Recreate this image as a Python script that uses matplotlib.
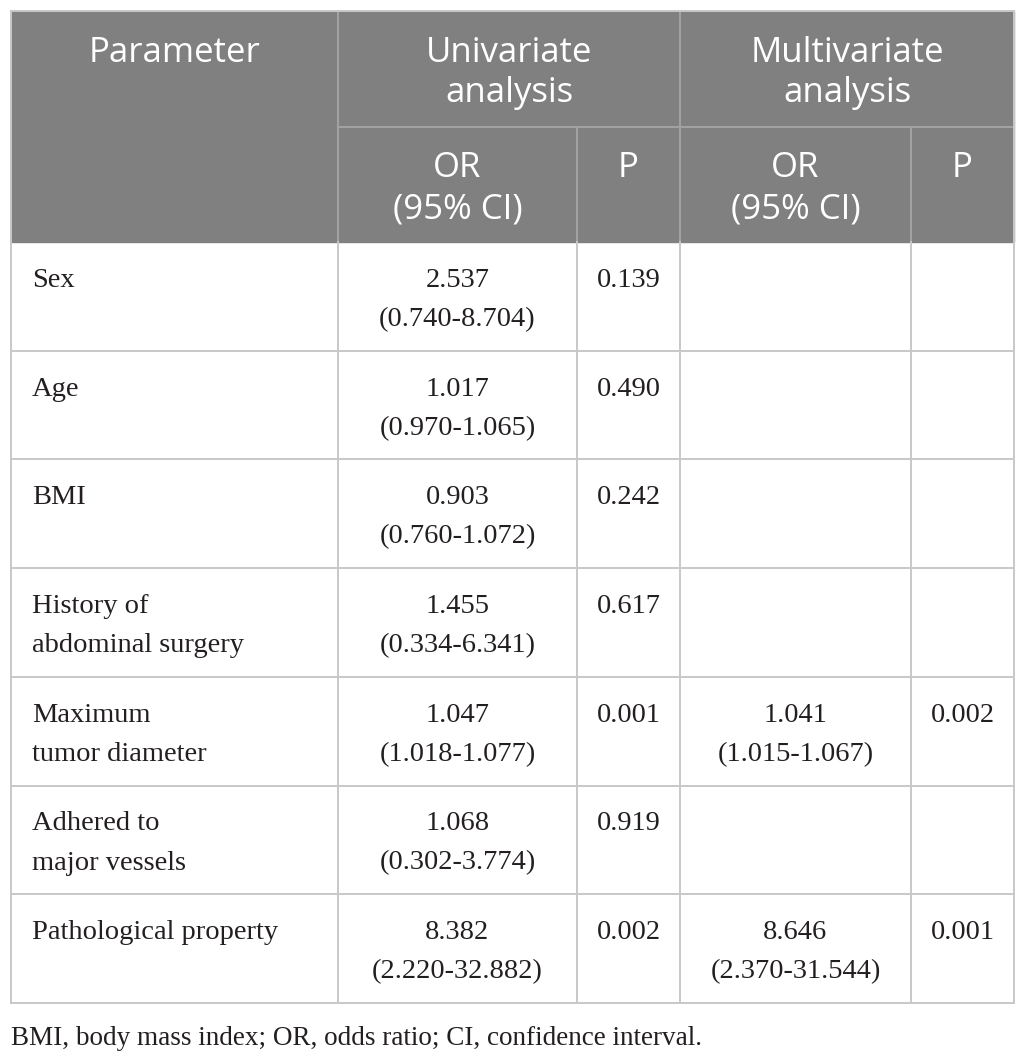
import matplotlib
matplotlib.use("Agg")
import matplotlib.pyplot as plt
from matplotlib.patches import Rectangle

# table content
params = ["Sex", "Age", "BMI", "History of\nabdominal surgery",
          "Maximum\ntumor diameter", "Adhered to\nmajor vessels",
          "Pathological property"]
uni_or = ["2.537\n(0.740-8.704)", "1.017\n(0.970-1.065)", "0.903\n(0.760-1.072)",
          "1.455\n(0.334-6.341)", "1.047\n(1.018-1.077)", "1.068\n(0.302-3.774)",
          "8.382\n(2.220-32.882)"]
uni_p = ["0.139", "0.490", "0.242", "0.617", "0.001", "0.919", "0.002"]
multi_or = ["", "", "", "", "1.041\n(1.015-1.067)", "", "8.646\n(2.370-31.544)"]
multi_p = ["", "", "", "", "0.002", "", "0.001"]
footnote = "BMI, body mass index; OR, odds ratio; CI, confidence interval."

# layout in pixels
W, H = 1025, 1057
col_x = [11, 338, 577, 680, 911, 1014]
head_y = [11, 127, 242]
row_h = 108.7

head_bg = "#808080"
head_line = "#a3a3a3"
body_line = "#c8c8c8"
txt = "#231f20"

fig = plt.figure(figsize=(W / 100, H / 100), dpi=100)
ax = fig.add_axes([0, 0, 1, 1])
ax.set_xlim(0, W)
ax.set_ylim(H, 0)
ax.axis("off")


def put(x, y, s, step, **kw):
    # one text per line so that every line sits on its own baseline
    for k, line in enumerate(s.split("\n")):
        ax.text(x, y + k * step, line, va="baseline", **kw)


n = len(params)
bottom = head_y[2] + n * row_h

# header background
ax.add_patch(Rectangle((col_x[0], head_y[0]), col_x[-1] - col_x[0],
                       head_y[2] - head_y[0], color=head_bg, zorder=1))

hfont = dict(family="Open Sans", size=25, color="white", ha="center")
put((col_x[0] + col_x[1]) / 2, 62, "Parameter", 40, **hfont)
put((col_x[1] + col_x[3]) / 2, 62, "Univariate\nanalysis", 40, **hfont)
put((col_x[3] + col_x[5]) / 2, 62, "Multivariate\nanalysis", 40, **hfont)
for i, lab in enumerate(["OR\n(95% CI)", "P", "OR\n(95% CI)", "P"]):
    put((col_x[i + 1] + col_x[i + 2]) / 2, 177, lab, 41, **hfont)

# header lines
lw = 1.4
ax.plot([col_x[1], col_x[5]], [head_y[1]] * 2, color=head_line, lw=lw, zorder=2)
for x in [col_x[1], col_x[3]]:
    ax.plot([x, x], [head_y[0], head_y[2]], color=head_line, lw=lw, zorder=2)
for x in [col_x[2], col_x[4]]:
    ax.plot([x, x], [head_y[1], head_y[2]], color=head_line, lw=lw, zorder=2)

# body lines
for i in range(1, n + 1):
    y = head_y[2] + i * row_h
    ax.plot([col_x[0], col_x[-1]], [y, y], color=body_line, lw=lw, zorder=2)
for x in col_x:
    ax.plot([x, x], [head_y[2], bottom], color=body_line, lw=lw, zorder=2)
# outer frame around header
ax.plot([col_x[0], col_x[-1]], [head_y[0]] * 2, color=body_line, lw=lw, zorder=3)
for x in [col_x[0], col_x[-1]]:
    ax.plot([x, x], [head_y[0], head_y[2]], color=body_line, lw=lw, zorder=3)

bfont = dict(family="Liberation Serif", size=20.5, color=txt)
for i in range(n):
    yb = head_y[2] + i * row_h + 45
    put(col_x[0] + 21, yb, params[i], 39, ha="left", **bfont)
    cols = [uni_or[i], uni_p[i], multi_or[i], multi_p[i]]
    for j, s in enumerate(cols):
        if s:
            put((col_x[j + 1] + col_x[j + 2]) / 2, yb, s, 39, ha="center", **bfont)

ax.text(11, 1045, footnote, ha="left", va="baseline",
        family="Liberation Serif", size=19.5, color=txt)

fig.savefig("out.png", dpi=100)
